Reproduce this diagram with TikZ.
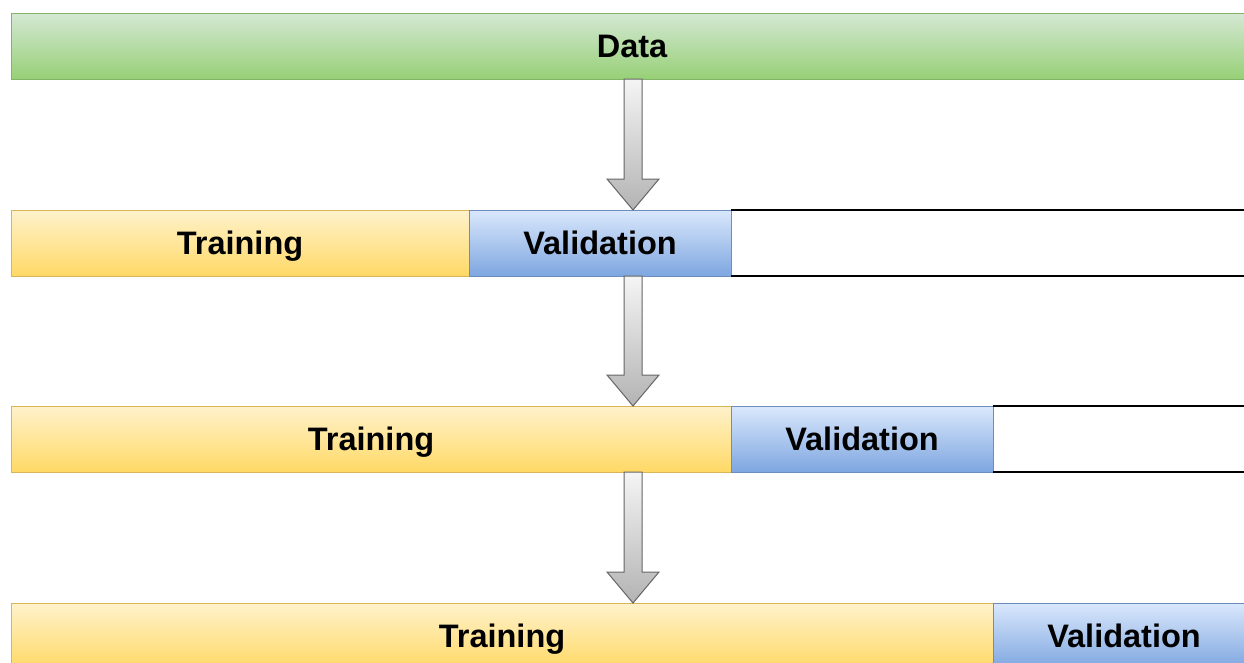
\documentclass[tikz,border=0pt]{standalone}
\usepackage{fontspec}
\setmainfont{Liberation Sans}
\usetikzlibrary{calc}
\definecolor{gtop}{HTML}{D5E8D4}\definecolor{gbot}{HTML}{97D077}\definecolor{gline}{HTML}{82B366}
\definecolor{ytop}{HTML}{FFF2CC}\definecolor{ybot}{HTML}{FFD966}\definecolor{yline}{HTML}{D6B656}
\definecolor{btop}{HTML}{DAE8FC}\definecolor{bbot}{HTML}{7EA6E0}\definecolor{bline}{HTML}{6C8EBF}
\definecolor{atop}{HTML}{F5F5F5}\definecolor{abot}{HTML}{B3B3B3}\definecolor{aline}{HTML}{666666}
\begin{document}
\begin{tikzpicture}[x=1pt,y=-1pt,
  bar/.style={rectangle, anchor=north west, minimum height=66pt, inner sep=0pt, outer sep=0pt,
    text height=23pt, text depth=0pt,
    line width=1pt, font=\fontsize{32.5}{38}\selectfont\bfseries, text=black},
  databox/.style={bar, draw=gline, top color=gtop, bottom color=gbot},
  trainbox/.style={bar, draw=yline, top color=ytop, bottom color=ybot},
  valbox/.style={bar, draw=bline, top color=btop, bottom color=bbot, minimum width=262pt},
  emptybox/.style={bar},
  edgeline/.style={draw=black, line width=1.3pt},
  bigarrow/.style={draw=aline, line width=1pt, top color=atop, bottom color=abot, line join=miter}]
\clip (0,0) rectangle (1244,662);
\fill[white] (0,0) rectangle (1244,662);
\coordinate (ax) at (633,0);
\node[databox, minimum width=1242pt] (data) at (11,13) {Data};
% row 1
\node[trainbox, minimum width=458pt] (t1) at (11,210) {Training};
\node[valbox] (v1) at (t1.north east) {Validation};
\node[emptybox, minimum width=540pt] (e1) at (v1.north east) {};
\draw[edgeline] (e1.north west) -- (e1.north east) (e1.south west) -- (e1.south east);
% row 2
\node[trainbox, minimum width=720pt] (t2) at (11,406) {Training};
\node[valbox] (v2) at (t2.north east) {Validation};
\node[emptybox, minimum width=300pt] (e2) at (v2.north east) {};
\draw[edgeline] (e2.north west) -- (e2.north east) (e2.south west) -- (e2.south east);
% row 3
\node[trainbox, minimum width=982pt] (t3) at (11,603) {Training};
\node[valbox] (v3) at (t3.north east) {Validation};
% arrows
\foreach \a/\b in {data/t1, t1/t2, t2/t3}{
  \path[bigarrow] let \p1=($(\a.south)$), \p2=($(\b.north)$), \p3=(ax) in
    (\x3-9pt,\y1) -- (\x3+9pt,\y1) -- (\x3+9pt,\y2+31pt) -- (\x3+26pt,\y2+31pt)
    -- (\x3,\y2) -- (\x3-26pt,\y2+31pt) -- (\x3-9pt,\y2+31pt) -- cycle;
}
\end{tikzpicture}
\end{document}
